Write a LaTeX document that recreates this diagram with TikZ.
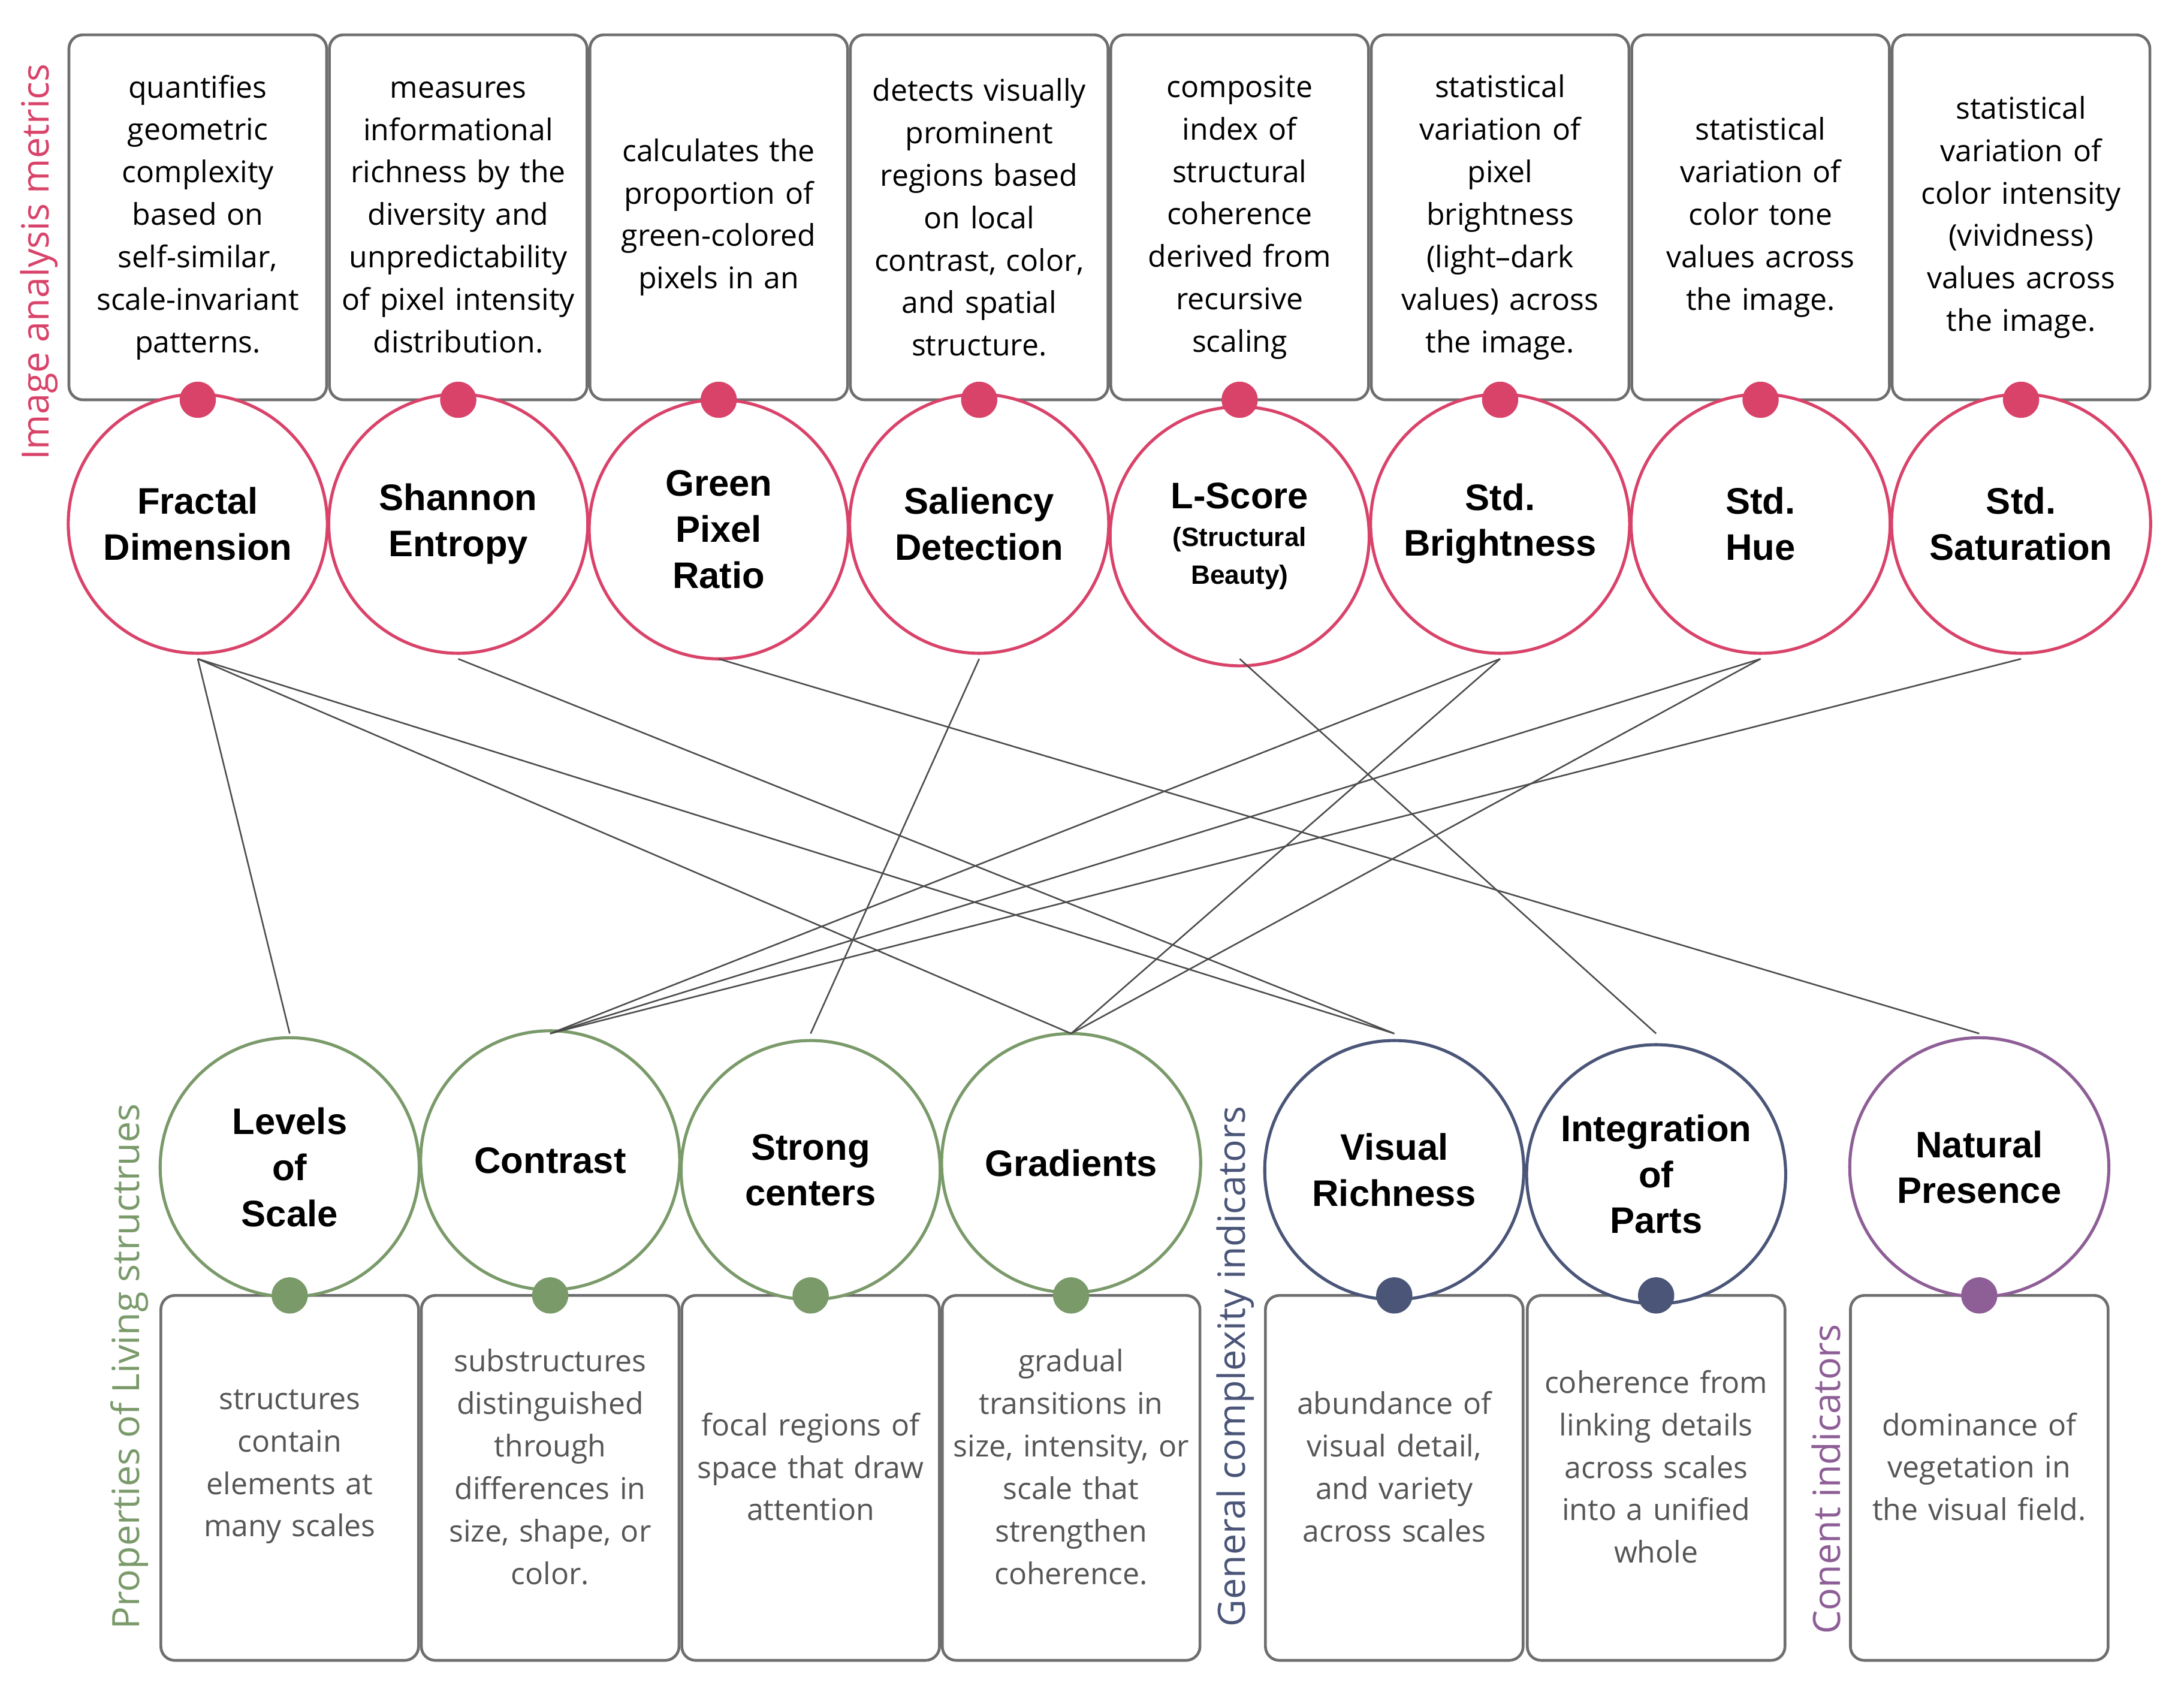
\documentclass[tikz,border=0pt]{standalone}
\usepackage{fontspec}
\setmainfont{Open Sans}
\newfontfamily\lab{Liberation Sans}
\definecolor{pk}{HTML}{D9436A}
\definecolor{gr}{HTML}{7A9A6A}
\definecolor{nv}{HTML}{4A5578}
\definecolor{pu}{HTML}{8E5E96}
\definecolor{bx}{HTML}{6E6E6E}
\definecolor{tx}{HTML}{555555}
\begin{document}
\begin{tikzpicture}[x=1pt,y=-1pt,
 box/.style={draw=bx,line width=2pt,rounded corners=10pt,minimum width=185pt,minimum height=262pt,inner sep=0pt},
 btxt/.style={align=center,font=\fontsize{21.5}{30.5}\selectfont,text width=182pt},
 circ/.style={circle,draw=#1,line width=2.2pt,fill=white,minimum size=186pt,inner sep=0pt,align=center,font=\lab\bfseries\fontsize{26.5}{33}\selectfont},
 dot/.style={circle,fill=#1,minimum size=26pt,inner sep=0pt},
 ln/.style={draw=black!70,line width=1.1pt}]
\useasboundingbox (0,0) rectangle (1568,1219);
% top
\foreach \i/\x/\t in {1/142/{quantifies\\geometric\\complexity\\based on\\self-similar,\\scale-invariant\\patterns.},
 2/329/{measures\\informational\\richness by the\\diversity and\\unpredictability\\of pixel intensity\\distribution.},
 3/516/{calculates the\\proportion of\\green-colored\\pixels in an},
 4/703/{detects visually\\prominent\\regions based\\on local\\contrast, color,\\and spatial\\structure.},
 5/890/{composite\\index of\\structural\\coherence\\derived from\\recursive\\scaling},
 6/1077/{statistical\\variation of\\pixel\\brightness\\(light--dark\\values) across\\the image.},
 7/1264/{statistical\\variation of\\color tone\\values across\\the image.},
 8/1451/{statistical\\variation of\\color intensity\\(vividness)\\values across\\the image.}}{
 \node[box] (tb\i) at (\x,156) {};
 \node[btxt] (tt\i) at (\x,156) {\t};
}
\node[circ=pk] (m1) at (142,376) {Fractal\\Dimension};
\node[circ=pk] (m2) at (329,376) {Shannon\\Entropy};
\node[circ=pk] (m3) at (516,380) {Green\\Pixel\\Ratio};
\node[circ=pk] (m4) at (703,376) {Saliency\\Detection};
\node[circ=pk,font=\lab\bfseries\fontsize{19}{27}\selectfont] (m5) at (890,385) {\fontsize{26.5}{33}\selectfont L-Score\\(Structural\\Beauty)};
\node[circ=pk] (m6) at (1077,376) {Std.\\Brightness};
\node[circ=pk] (m7) at (1264,376) {Std.\\Hue};
\node[circ=pk] (m8) at (1451,376) {Std.\\Saturation};
\foreach \i/\x in {1/142,2/329,3/516,4/703,5/890,6/1077,7/1264,8/1451}
 \node[dot=pk] (md\i) at (\x,287) {};
% bottom
\foreach \i/\x/\t in {1/208/{structures\\contain\\elements at\\many scales},
 2/395/{substructures\\distinguished\\through\\differences in\\size, shape, or\\color.},
 3/582/{focal regions of\\space that draw\\attention},
 4/769/{gradual\\transitions in\\size, intensity, or\\scale that\\strengthen\\coherence.},
 5/1001/{abundance of\\visual detail,\\and variety\\across scales},
 6/1189/{coherence from\\linking details\\across scales\\into a unified\\whole},
 7/1421/{dominance of\\vegetation in\\the visual field.}}{
 \node[box] (bb\i) at (\x,1061) {};
 \node[btxt,text=tx] (bt\i) at (\x,1053) {\t};
}
\node[circ=gr] (p1) at (208,838) {Levels\\of\\Scale};
\node[circ=gr] (p2) at (395,833) {Contrast};
\node[circ=gr] (p3) at (582,840) {Strong\\centers};
\node[circ=gr] (p4) at (769,835) {Gradients};
\node[circ=nv] (p5) at (1001,840) {Visual\\Richness};
\node[circ=nv] (p6) at (1189,843) {Integration\\of\\Parts};
\node[circ=pu] (p7) at (1421,838) {Natural\\Presence};
\foreach \i/\x/\c in {1/208/gr,2/395/gr,3/582/gr,4/769/gr,5/1001/nv,6/1189/nv,7/1421/pu}
 \node[dot=\c] (pd\i) at (\x,930) {};
% connectors
\foreach \a/\b in {1/1,1/4,1/5,2/5,3/7,4/3,5/6,6/2,6/4,7/2,7/4,8/2}
 \draw[ln] (md\a |- 0,473) coordinate (c\a\b) -- (pd\b |- 0,742);
% side labels
\node[rotate=90,text=pk,font=\fontsize{27}{30}\selectfont] (s1) at (28,188) {Image analysis metrics};
\node[rotate=90,text=gr,font=\fontsize{27}{30}\selectfont] (s2) at (93,981) {Properties of Living structrues};
\node[rotate=90,text=nv,font=\fontsize{27}{30}\selectfont] (s3) at (887,981) {General complexity indicators};
\node[rotate=90,text=pu,font=\fontsize{27}{30}\selectfont] (s4) at (1311,1062) {Conent indicators};
\end{tikzpicture}
\end{document}
